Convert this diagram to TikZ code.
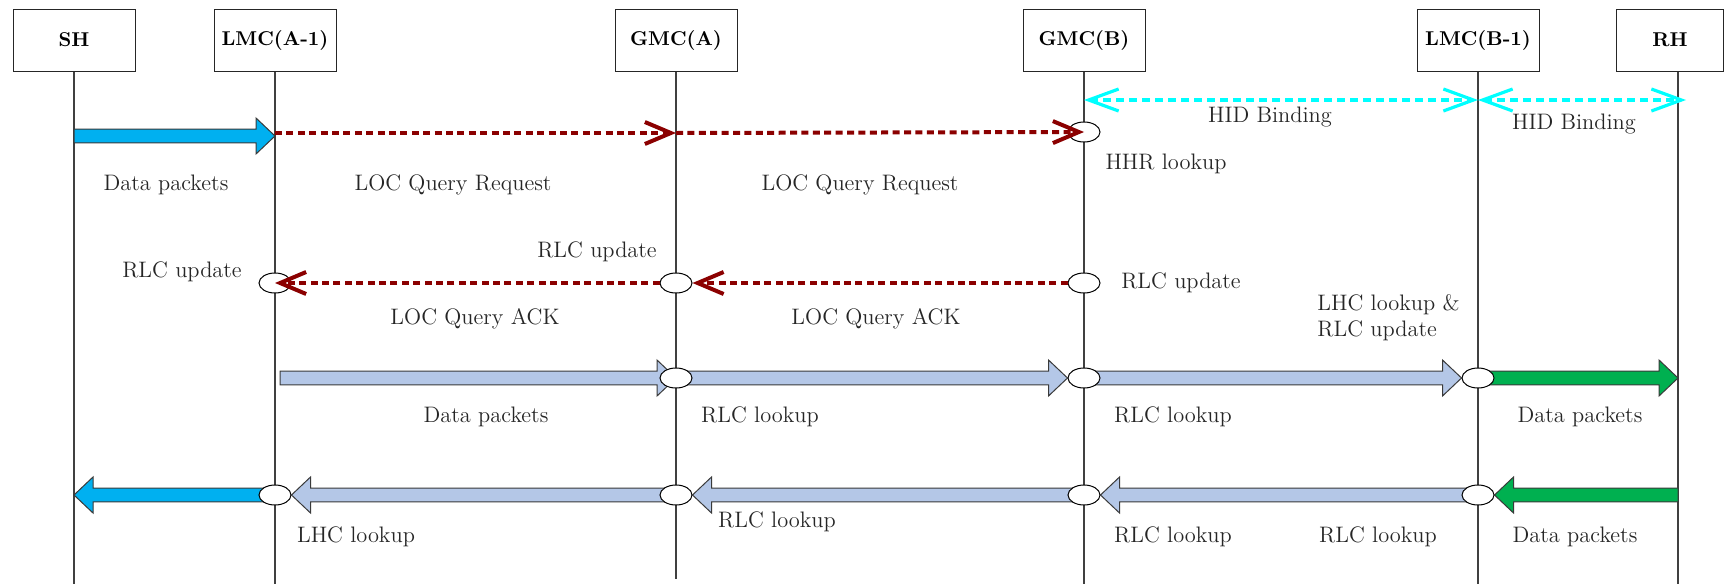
\documentclass[tikz,border=0pt]{standalone}
\usetikzlibrary{arrows.meta,calc,shapes.geometric}

\definecolor{pktblue}{HTML}{00B0F0}
\definecolor{relayblue}{HTML}{B4C7E7}
\definecolor{pktgreen}{HTML}{00B050}
\definecolor{queryred}{HTML}{8B0000}
\definecolor{bindcyan}{HTML}{00FFFF}
\definecolor{edgegray}{HTML}{3A3A3A}

\pgfdeclarelayer{bg}
\pgfsetlayers{bg,main}

% Block arrow from a tail point #2 to a tip point #3, style #1
\newcommand\blockarrow[3]{%
  \draw[#1] let \p1=(#2), \p2=(#3), \n1={9.5*sign(\x1-\x2)} in
    ({\x1},{\y1+3.4pt}) -- ({\x2+(\n1)*1pt},{\y2+3.4pt}) -- ({\x2+(\n1)*1pt},{\y2+9pt})
    -- (\p2) -- ({\x2+(\n1)*1pt},{\y2-9pt}) -- ({\x2+(\n1)*1pt},{\y2-3.4pt})
    -- ({\x1},{\y1-3.4pt}) -- cycle;}

\tikzset{
  actor/.style={draw=black!85, line width=0.5pt, minimum width=61pt, minimum height=31pt,
    inner sep=0pt, font=\bfseries\fontsize{10}{12}\selectfont},
  life/.style={line width=0.6pt, draw=black!75},
  evt/.style={ellipse, draw, fill=white, line width=0.5pt, minimum width=16pt,
    minimum height=10pt, inner sep=0pt},
  lbl/.style={font=\fontsize{11.2}{13}\selectfont, inner sep=0pt, text=black!85},
  fatblue/.style={fill=pktblue, draw=edgegray, line width=0.5pt},
  fatrelay/.style={fill=relayblue, draw=edgegray, line width=0.5pt},
  fatgreen/.style={fill=pktgreen, draw=edgegray, line width=0.5pt},
  query/.style={draw=queryred, line width=2pt, dash pattern=on 3.5pt off 2.2pt,
    -{Straight Barb[length=13pt,width=11pt,line width=2pt]}},
  bind/.style={draw=bindcyan, line width=1.6pt, dash pattern=on 4pt off 2.5pt,
    {Straight Barb[length=15pt,width=11pt,line width=1.6pt]}-{Straight Barb[length=15pt,width=11pt,line width=1.6pt]}},
}

\begin{document}
\begin{tikzpicture}[x=0.5pt,y=-0.5pt]
\useasboundingbox (0,0) rectangle (1733,584);

% participants
\node[actor] (sh) at (74,40) {SH};
\node[actor] (lmca) at (275,40) {LMC(A-1)};
\node[actor] (gmca) at (676,40) {GMC(A)};
\node[actor] (gmcb) at (1084,40) {GMC(B)};
\node[actor] (lmcb) at (1478,40) {LMC(B-1)};
\node[actor, minimum width=53.5pt] (rh) at (1670,40) {RH};

% lifeline ends
\coordinate (shb) at (sh.south |- 0,584);
\coordinate (lmcab) at (lmca.south |- 0,584);
\coordinate (gmcab) at (gmca.south |- 0,579);
\coordinate (gmcbb) at (gmcb.south |- 0,584);
\coordinate (lmcbb) at (lmcb.south |- 0,584);
\coordinate (rht) at (1678,0 |- rh.south);
\coordinate (rhb) at (1678,584);

% row 1: data towards LMC(A-1), location query
\coordinate (sh1) at (sh.south |- 0,136);
\coordinate (lmca1) at (lmca.south |- 0,136);
\coordinate (lmcaq) at (lmca.south |- 0,133);
\coordinate (gmcaq) at (gmca.south |- 0,133);
\node[evt] (hhr) at (gmcb.south |- 0,132) {};

% HID binding row
\coordinate (gmcbh) at (gmcb.south |- 0,100);
\coordinate (lmcbh) at (lmcb.south |- 0,100);
\coordinate (rhh) at (1686,100);

% row 2: query acknowledgements
\node[evt] (la2) at (lmca.south |- 0,283) {};
\node[evt] (ga2) at (gmca.south |- 0,283) {};
\node[evt] (gb2) at (gmcb.south |- 0,283) {};

% row 3: forward data path
\coordinate (la3) at (280,378);
\node[evt] (ga3) at (gmca.south |- 0,378) {};
\node[evt] (gb3) at (gmcb.south |- 0,378) {};
\node[evt] (lb3) at (lmcb.south |- 0,378) {};
\coordinate (rh3) at (1678,378);

% row 4: return data path
\coordinate (sh4) at (sh.south |- 0,495);
\node[evt] (la4) at (lmca.south |- 0,495) {};
\node[evt] (ga4) at (gmca.south |- 0,495) {};
\node[evt] (gb4) at (gmcb.south |- 0,495) {};
\node[evt] (lb4) at (lmcb.south |- 0,495) {};
\coordinate (rh4) at (1678,495);

\begin{pgfonlayer}{bg}
  \draw[life] (sh) -- (shb);
  \draw[life] (lmca) -- (lmcab);
  \draw[life] (gmca) -- (gmcab);
  \draw[life] (gmcb) -- (gmcbb);
  \draw[life] (lmcb) -- (lmcbb);
  \draw[life] (rht) -- (rhb);

  \blockarrow{fatblue}{sh1}{lmca1}

  \blockarrow{fatrelay}{la3}{ga3.center}
  \blockarrow{fatrelay}{ga3.center}{gb3.west}
  \blockarrow{fatrelay}{gb3.center}{lb3.west}
  \blockarrow{fatgreen}{lb3.center}{rh3}

  \blockarrow{fatgreen}{rh4}{lb4.east}
  \blockarrow{fatrelay}{lb4.center}{gb4.east}
  \blockarrow{fatrelay}{gb4.center}{ga4.east}
  \blockarrow{fatrelay}{ga4.center}{la4.east}
  \blockarrow{fatblue}{la4.center}{sh4}
\end{pgfonlayer}

% location query request and acknowledgement
\draw[query] (lmcaq) -- (gmcaq);
\draw[query] (gmcaq) -- (hhr.center);
\draw[query] (gb2.west) -- (ga2.east);
\draw[query] (ga2.west) -- (la2.center);

% HID binding
\draw[bind] (gmcbh) -- (lmcbh);
\draw[bind] (lmcbh) -- (rhh);

% labels
\node[lbl] (t1) at (166,185) {Data packets};
\node[lbl] (t2) at (453,185) {LOC Query Request};
\node[lbl] (t3) at (860,185) {LOC Query Request};
\node[lbl] (t4) at (1166,164) {HHR lookup};
\node[lbl] (t5) at (1270,117) {HID Binding};
\node[lbl] (t6) at (1574,124) {HID Binding};
\node[lbl] (t7) at (182,272) {RLC update};
\node[lbl] (t8) at (597,252) {RLC update};
\node[lbl] (t9) at (1181,283) {RLC update};
\node[lbl] (t10) at (475,319) {LOC Query ACK};
\node[lbl] (t11) at (876,319) {LOC Query ACK};
\node[lbl, align=left, anchor=west] (t12) at (1317,318) {LHC lookup \&\\RLC update};
\node[lbl] (t13) at (486,417) {Data packets};
\node[lbl] (t14) at (760,417) {RLC lookup};
\node[lbl] (t15) at (1173,417) {RLC lookup};
\node[lbl] (t16) at (1580,417) {Data packets};
\node[lbl] (t17) at (356,537) {LHC lookup};
\node[lbl] (t18) at (777,522) {RLC lookup};
\node[lbl] (t19) at (1173,537) {RLC lookup};
\node[lbl] (t20) at (1378,537) {RLC lookup};
\node[lbl] (t21) at (1575,537) {Data packets};
\end{tikzpicture}
\end{document}
